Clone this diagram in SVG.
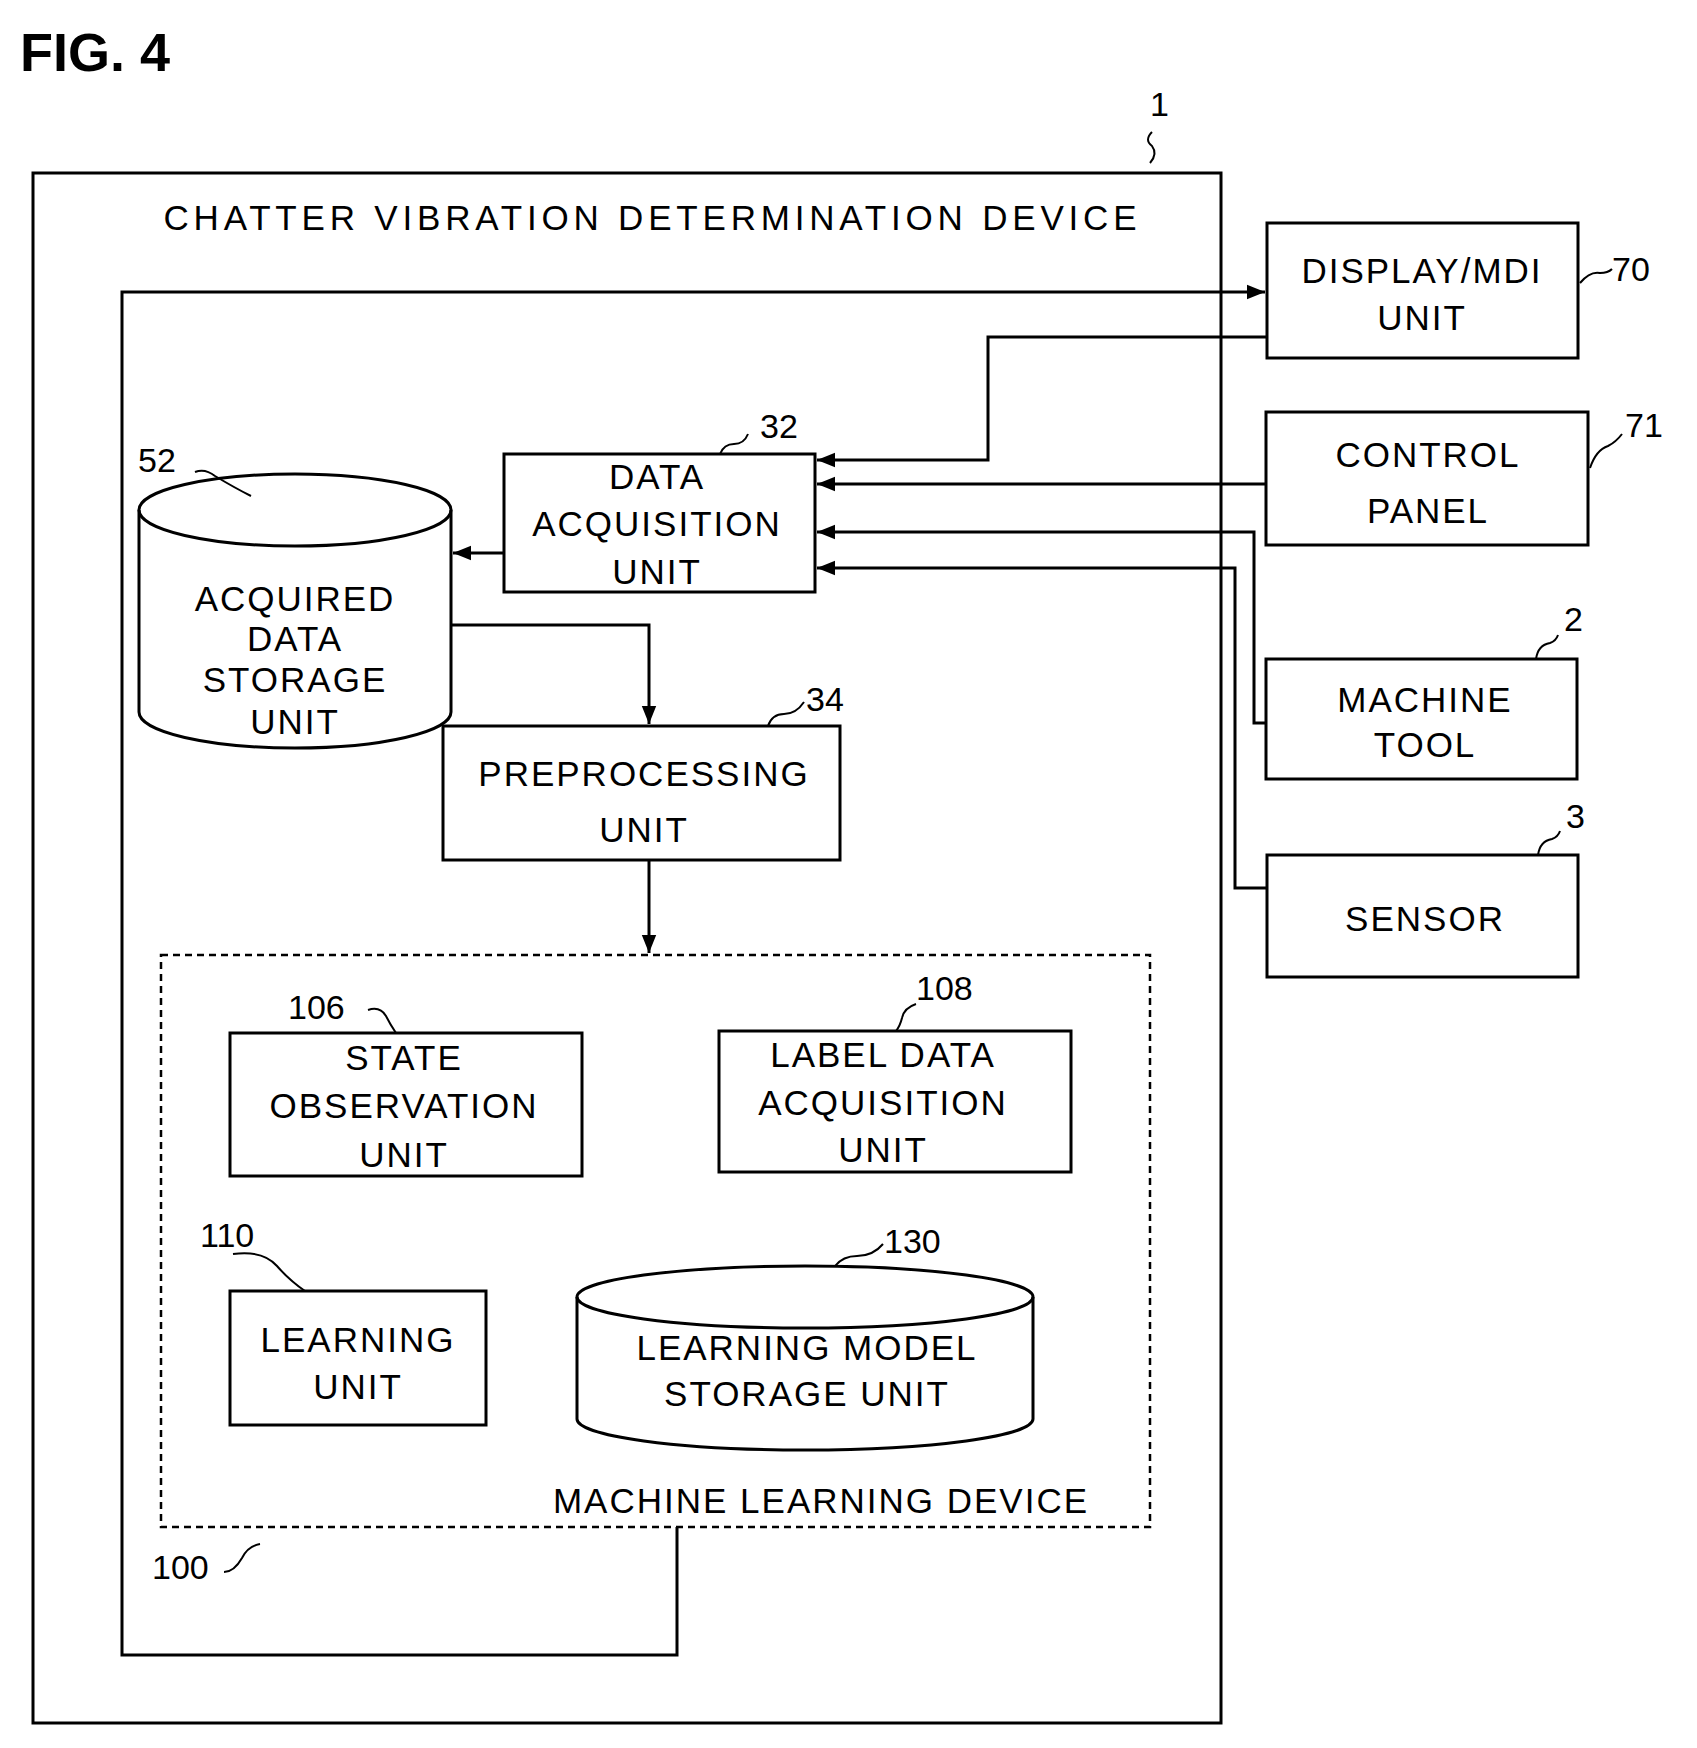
<svg xmlns="http://www.w3.org/2000/svg" width="1697" height="1748" viewBox="0 0 1697 1748">
<style>
.b{fill:#fff;stroke:#000;stroke-width:3}
.l{fill:none;stroke:#000;stroke-width:3}
.t{font-family:"Liberation Sans",Arial,sans-serif;font-size:35px;letter-spacing:2px;text-anchor:middle;dominant-baseline:central;fill:#000}
.n{font-family:"Liberation Sans",Arial,sans-serif;font-size:34px;dominant-baseline:central;fill:#000}
.k{fill:none;stroke:#000;stroke-width:2}
</style>
<defs><marker id="a" viewBox="0 0 10 10" refX="10" refY="5" markerWidth="6" markerHeight="6" orient="auto" markerUnits="strokeWidth"><path d="M0,1 L10,5 L0,9 z" fill="#000"/></marker></defs>
<rect width="1697" height="1748" fill="#fff"/>
<text x="20" y="52" class="n" style="font-size:54px;font-weight:bold">FIG. 4</text>
<g id="outer"><rect class="b" x="33" y="173" width="1188" height="1550"/>
<text class="t" x="651" y="217" textLength="975" lengthAdjust="spacing">CHATTER VIBRATION DETERMINATION DEVICE</text>
<text class="n" x="1150" y="104">1</text><path class="k" d="M1152,132 q-8,8 0,14 q6,8 -2,17"/></g>
<g id="display"><rect class="b" x="1267" y="223" width="311" height="135"/><text class="t" x="1422" y="270">DISPLAY/MDI</text><text class="t" x="1422" y="317">UNIT</text><text class="n" x="1612" y="269">70</text><path class="k" d="M1580,283 q10,-12 20,-10 q8,0 12,-4"/></g>
<g id="control"><rect class="b" x="1266" y="412" width="322" height="133"/><text class="t" x="1428" y="454">CONTROL</text><text class="t" x="1428" y="510">PANEL</text><text class="n" x="1625" y="425">71</text><path class="k" d="M1590,468 q6,-18 18,-22 q8,-4 14,-12"/></g>
<g id="machine"><rect class="b" x="1266" y="659" width="311" height="120"/><text class="t" x="1425" y="699">MACHINE</text><text class="t" x="1425" y="744">TOOL</text><text class="n" x="1564" y="619">2</text><path class="k" d="M1536,659 q2,-14 14,-16 q6,-2 8,-8"/></g>
<g id="sensor"><rect class="b" x="1267" y="855" width="311" height="122"/><text class="t" x="1425" y="918">SENSOR</text><text class="n" x="1566" y="816">3</text><path class="k" d="M1538,855 q2,-14 14,-16 q6,-2 8,-8"/></g>
<g id="dataacq"><rect class="b" x="504" y="454" width="311" height="138"/><text class="t" x="657" y="476">DATA</text><text class="t" x="657" y="523">ACQUISITION</text><text class="t" x="657" y="571">UNIT</text><text class="n" x="760" y="426">32</text><path class="k" d="M720,454 q4,-10 14,-10 q10,0 14,-10"/></g>
<g id="acqstore"><path class="b" d="M139,510 A156,36 0 0 1 451,510 L451,712 A156,36 0 0 1 139,712 Z"/><path class="l" d="M139,510 A156,36 0 0 0 451,510"/>
<text class="t" x="295" y="598">ACQUIRED</text><text class="t" x="295" y="638">DATA</text><text class="t" x="295" y="679">STORAGE</text><text class="t" x="295" y="721">UNIT</text><text class="n" x="138" y="460">52</text><path class="k" d="M195,472 q10,-4 20,4 q20,12 36,20"/></g>
<g id="preproc"><rect class="b" x="443" y="726" width="397" height="134"/><text class="t" x="644" y="773">PREPROCESSING</text><text class="t" x="644" y="829">UNIT</text><text class="n" x="806" y="699">34</text><path class="k" d="M768,726 q4,-12 16,-12 q12,0 20,-12"/></g>
<g id="mld"><rect x="161" y="955" width="989" height="572" fill="none" stroke="#000" stroke-width="2.5" stroke-dasharray="7,5"/><text class="t" x="821" y="1500">MACHINE LEARNING DEVICE</text><text class="n" x="152" y="1567">100</text><path class="k" d="M224,1572 q10,0 18,-14 q6,-12 18,-14"/></g>
<g id="stateobs"><rect class="b" x="230" y="1033" width="352" height="143"/><text class="t" x="404" y="1057">STATE</text><text class="t" x="404" y="1105">OBSERVATION</text><text class="t" x="404" y="1154">UNIT</text><text class="n" x="288" y="1007">106</text><path class="k" d="M368,1010 q12,-4 18,6 q4,8 10,17"/></g>
<g id="labeldata"><rect class="b" x="719" y="1031" width="352" height="141"/><text class="t" x="883" y="1054">LABEL DATA</text><text class="t" x="883" y="1102">ACQUISITION</text><text class="t" x="883" y="1149">UNIT</text><text class="n" x="916" y="988">108</text><path class="k" d="M916,1004 q-12,4 -14,14 q-2,8 -6,13"/></g>
<g id="learning"><rect class="b" x="230" y="1291" width="256" height="134"/><text class="t" x="358" y="1339">LEARNING</text><text class="t" x="358" y="1386">UNIT</text><text class="n" x="200" y="1235">110</text><path class="k" d="M233,1254 q30,-4 44,12 q12,14 28,25"/></g>
<g id="lmstore"><path class="b" d="M577,1297 A228,31 0 0 1 1033,1297 L1033,1419 A228,31 0 0 1 577,1419 Z"/><path class="l" d="M577,1297 A228,31 0 0 0 1033,1297"/><text class="t" x="807" y="1347">LEARNING MODEL</text><text class="t" x="807" y="1393">STORAGE UNIT</text><text class="n" x="884" y="1241">130</text><path class="k" d="M835,1266 q8,-10 22,-10 q16,0 26,-12"/></g>
<g id="connectors">
<path class="l" d="M677,1527 V1655 H122 V292 H1265" marker-end="url(#a)"/>
<path class="l" d="M1267,337 H988 V460 H817" marker-end="url(#a)"/>
<path class="l" d="M1266,484 H817" marker-end="url(#a)"/>
<path class="l" d="M1266,723 H1254 V532 H817" marker-end="url(#a)"/>
<path class="l" d="M1267,888 H1235 V568 H817" marker-end="url(#a)"/>
<path class="l" d="M504,553 H453" marker-end="url(#a)"/>
<path class="l" d="M451,625 H649 V724" marker-end="url(#a)"/>
<path class="l" d="M649,860 V953" marker-end="url(#a)"/>
</g>
</svg>
